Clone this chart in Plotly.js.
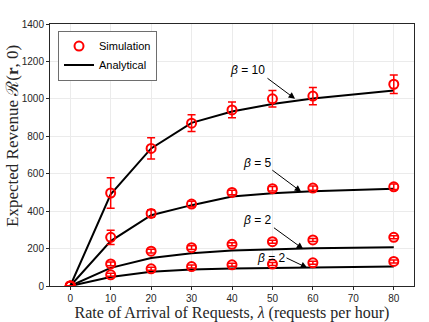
<!DOCTYPE html>
<html>
<head>
<meta charset="utf-8">
<script src="https://cdn.plot.ly/plotly-3.0.1.min.js"></script>
<style>html,body{margin:0;padding:0;background:#fff;}#chart{width:429px;height:322px;}</style>
</head>
<body>
<div id="chart"></div>
<script>
// Simulation points
const simX = [0, 10, 20, 30, 40, 50, 60, 80];
const simB10 = [0, 497, 735, 870, 941, 1000, 1015, 1078];
const errB10 = [0, 82, 57, 45, 42, 44, 46, 50];
const simB5 = [0, 260, 388, 438, 500, 520, 523, 530];
const errB5 = [0, 38, 20, 15, 12, 12, 12, 15];
const simB2a = [0, 118, 186, 205, 223, 237, 246, 260];
const errB2a = [0, 10, 10, 10, 8, 8, 8, 8];
const simB2b = [0, 60, 92, 104, 113, 117, 124, 131];
const errB2b = [0, 8, 8, 8, 8, 8, 8, 8];

// Analytical curves
const anaX = [0, 10, 20, 30, 40, 50, 60, 70, 80];
const anaB10 = [0, 490, 735, 872, 932, 972, 1002, 1025, 1044];
const anaB5 = [0, 240, 378, 432, 478, 495, 506, 513, 519];
const anaB2a = [0, 97, 150, 175, 190, 197, 202, 205, 207];
const anaB2b = [0, 48, 76, 88, 93, 97, 100, 102, 104];

const xTicks = [0, 10, 20, 30, 40, 50, 60, 70, 80];
const yTicks = [0, 200, 400, 600, 800, 1000, 1200, 1400];
const xTitle = 'Rate of Arrival of Requests, <i>λ</i> (requests per hour)';
const yTitle = 'Expected Revenue ℛ(<b>r</b>, 0)';

const red = '#ff0000';
function sim(y, e, show) {
  return {
    x: simX, y: y, type: 'scatter', mode: 'markers', name: 'Simulation',
    showlegend: show, legendrank: 1,
    marker: {symbol: 'circle-open', size: 9, color: red, line: {width: 2, color: red}},
    error_y: {type: 'data', array: e, visible: true, color: red, thickness: 1.5, width: 4}
  };
}
function ana(y, show) {
  return {
    x: anaX, y: y, type: 'scatter', mode: 'lines', name: 'Analytical',
    showlegend: show, legendrank: 2,
    line: {color: '#000000', width: 2}
  };
}
const traces = [
  ana(anaB10, true), ana(anaB5, false), ana(anaB2a, false), ana(anaB2b, false),
  sim(simB10, errB10, true), sim(simB5, errB5, false), sim(simB2a, errB2a, false), sim(simB2b, errB2b, false)
];

const tickFont = {family: 'Liberation Sans, Arial, sans-serif', size: 10, color: '#262626'};
const serif = 'Liberation Serif, Times New Roman, serif';
function arrow(x, y, ax, ay) {
  return {x: x, y: y, ax: ax, ay: ay, xref: 'x', yref: 'y', axref: 'x', ayref: 'y',
    text: '', showarrow: true, arrowhead: 2, arrowsize: 1.3, arrowwidth: 1, arrowcolor: '#000'};
}
function label(x, y, t) {
  return {x: x, y: y, xref: 'x', yref: 'y', text: '<i>β</i> = ' + t, showarrow: false,
    font: {family: 'Liberation Sans, Arial, sans-serif', size: 12, color: '#000'}};
}
const layout = {
  width: 429, height: 322,
  margin: {l: 50, r: 15, t: 24, b: 35.5},
  paper_bgcolor: '#fff', plot_bgcolor: '#fff',
  showlegend: true,
  legend: {x: 0.022, y: 0.975, xanchor: 'left', yanchor: 'top', bgcolor: '#fff',
    bordercolor: '#6e6e6e', borderwidth: 1, font: {family: 'Liberation Sans, Arial, sans-serif', size: 11, color: '#000'},
    traceorder: 'normal', tracegroupgap: 0, itemwidth: 30},
  xaxis: {range: [-5, 85], tickvals: xTicks, ticktext: xTicks.map(String), showgrid: true, gridcolor: '#ebebeb',
    zeroline: false, showline: true, linecolor: '#262626', linewidth: 1, mirror: true,
    ticks: 'outside', ticklen: 3, tickcolor: '#262626', tickfont: tickFont,
    title: {text: xTitle, font: {family: serif, size: 16, color: '#262626'}, standoff: 3}},
  yaxis: {range: [0, 1400], tickvals: yTicks, ticktext: yTicks.map(String), showgrid: true, gridcolor: '#ebebeb',
    zeroline: false, showline: true, linecolor: '#262626', linewidth: 1, mirror: true,
    ticks: 'outside', ticklen: 3, tickcolor: '#262626', tickfont: tickFont},
  annotations: [
    {xref: 'paper', yref: 'paper', x: -0.1016, y: 0.573, text: yTitle, textangle: -90, showarrow: false,
      xanchor: 'center', yanchor: 'middle', font: {family: serif, size: 17, color: '#262626'}},
    arrow(55.6, 1000, 48.4, 1116), label(43.8, 1155, '10'),
    arrow(57.1, 504, 49.6, 625), label(46.2, 659, '5'),
    arrow(57.6, 198, 50, 317), label(46.2, 355, '2'),
    arrow(58.6, 97, 53.1, 154), label(49.7, 152, '2')
  ]
};
Plotly.newPlot('chart', traces, layout, {displayModeBar: false, staticPlot: true});
</script>
</body>
</html>
